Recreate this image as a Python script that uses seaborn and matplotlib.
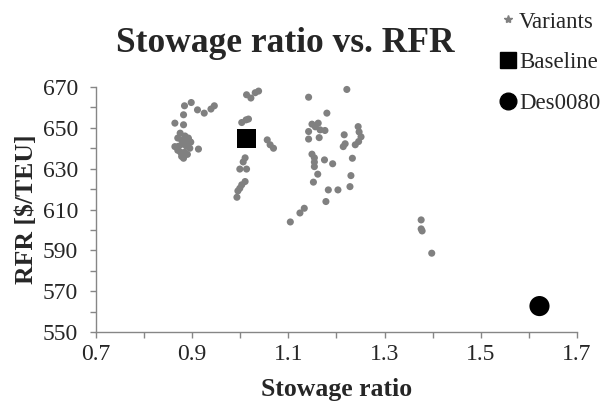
import matplotlib
matplotlib.use("Agg")
import matplotlib.pyplot as plt
from matplotlib.lines import Line2D
from matplotlib.ticker import FuncFormatter
import seaborn as sns

variant_x = [
    0.898, 0.884, 0.911, 0.925, 0.939, 0.946, 0.882, 0.864, 0.882, 0.875, 0.913, 0.864, 0.882,
    0.870, 0.878, 0.885, 0.892, 0.897, 0.872, 0.880, 0.888, 0.895, 0.876, 0.884, 0.890, 0.878,
    0.893, 0.886, 0.870,
    1.038, 1.031, 1.013, 1.022, 1.012, 1.003, 1.017, 1.056, 1.062, 1.069, 1.010, 1.006, 0.999,
    1.013, 1.010, 1.003, 0.999, 0.995, 0.993,
    1.2215, 1.142, 1.180, 1.149, 1.162, 1.156, 1.166, 1.176, 1.142, 1.142, 1.164, 1.216, 1.214,
    1.218, 1.245, 1.247, 1.251, 1.246, 1.239, 1.149, 1.154, 1.154, 1.154, 1.175, 1.192, 1.233,
    1.161, 1.152, 1.230, 1.183, 1.203, 1.228, 1.178, 1.133, 1.124, 1.104,
    1.376, 1.378, 1.376, 1.398,
]
variant_y = [
    662.4, 660.8, 658.8, 657.2, 659.2, 660.8, 656.4, 652.3, 651.5, 647.4, 639.6, 640.8, 635.1,
    645.0, 644.0, 646.0, 645.0, 643.0, 641.0, 642.0, 641.0, 640.0, 638.0, 638.0, 637.0, 636.0,
    644.0, 643.0, 639.0,
    668.0, 667.2, 666.2, 664.6, 653.9, 652.6, 654.3, 644.1, 641.7, 640.0, 635.3, 633.3, 629.8,
    629.8, 623.7, 622.1, 620.4, 619.1, 616.0,
    668.8, 665.0, 657.2, 651.8, 652.3, 650.5, 649.0, 648.7, 648.2, 644.5, 645.2, 646.6, 640.8,
    642.2, 650.6, 648.0, 645.6, 643.3, 641.7, 637.1, 635.3, 633.2, 631.0, 634.3, 632.4, 635.1,
    627.3, 623.4, 626.6, 619.6, 619.6, 621.2, 613.9, 610.6, 608.3, 603.9,
    604.9, 599.5, 600.5, 588.6,
]
baseline_x = [1.013]
baseline_y = [644.9]
des_x = [1.622]
des_y = [562.7]

x_ticks = [0.7, 0.8, 0.9, 1.0, 1.1, 1.2, 1.3, 1.4, 1.5, 1.6, 1.7]
y_ticks = [550, 560, 570, 580, 590, 600, 610, 620, 630, 640, 650, 660, 670]

sns.set_theme(style="white")
plt.rcParams["font.family"] = ["Liberation Serif", "DejaVu Serif"]

fig = plt.figure(figsize=(6.07, 4.09), dpi=100)
ax = fig.add_axes([96 / 607, 1 - 332 / 409, (577 - 96) / 607, (332 - 87) / 409])

grey = "#808080"
sns.scatterplot(x=variant_x, y=variant_y, ax=ax, color=grey, s=26, marker="o",
                edgecolor="none", legend=False, clip_on=False)
sns.scatterplot(x=baseline_x, y=baseline_y, ax=ax, color="black", s=190, marker="s",
                edgecolor="none", legend=False, clip_on=False)
sns.scatterplot(x=des_x, y=des_y, ax=ax, color="black", s=210, marker="o",
                edgecolor="none", legend=False, clip_on=False)

ax.set_xlim(0.7, 1.7)
ax.set_ylim(550, 670)
ax.set_xticks(x_ticks)
ax.set_yticks(y_ticks)
ax.xaxis.set_major_formatter(FuncFormatter(
    lambda v, p: f"{v:.1f}" if round((v - 0.7) * 10) % 2 == 0 else ""))
ax.yaxis.set_major_formatter(FuncFormatter(
    lambda v, p: f"{int(round(v))}" if int(round(v - 550)) % 20 == 0 else ""))

for s in ["top", "right"]:
    ax.spines[s].set_visible(False)
for s in ["left", "bottom"]:
    ax.spines[s].set_color("#868686")
    ax.spines[s].set_linewidth(1.0)
ax.tick_params(axis="both", which="both", direction="out", length=4, width=1,
               color="#868686", labelsize=17, bottom=True, left=True)
ax.tick_params(axis="y", pad=9)
ax.tick_params(axis="x", pad=5)

ax.set_xlabel("Stowage ratio", fontsize=18.5, fontweight="bold", labelpad=9)
ax.set_ylabel("RFR [$/TEU]", fontsize=18.5, fontweight="bold", labelpad=3)
fig.text(285 / 607, 1 - 44 / 409, "Stowage ratio vs. RFR", fontsize=25.5,
         fontweight="bold", ha="center", va="center")

handles = [
    Line2D([], [], linestyle="none", marker="*", markersize=6, color=grey, label="Variants"),
    Line2D([], [], linestyle="none", marker="s", markersize=12, color="black", label="Baseline"),
    Line2D([], [], linestyle="none", marker="o", markersize=12, color="black", label="Des0080"),
]
fig.legend(handles=handles, loc="upper left", bbox_to_anchor=(487 / 607, 1.0),
           frameon=False, fontsize=16.5, labelspacing=0.85, handlelength=0.8,
           handletextpad=0.1, borderaxespad=0.1)

fig.savefig("out.png", dpi=100)
